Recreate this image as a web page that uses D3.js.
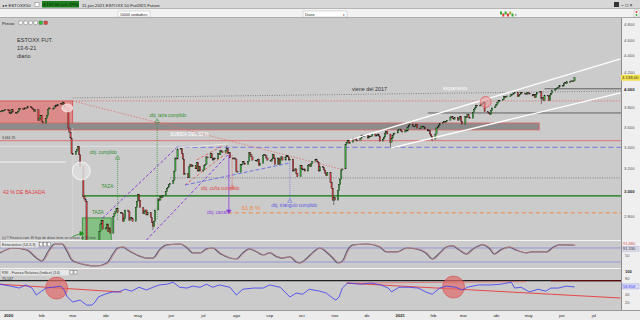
<!DOCTYPE html>
<html>
<head>
<meta charset="utf-8">
<script src="https://cdn.jsdelivr.net/npm/d3@7"></script>
<style>
  body { margin: 0; background: #fff; }
  svg { display: block; font-family: "Liberation Sans", Arial, sans-serif; }
</style>
</head>
<body>
<script>
const W = 640, H = 320;
const plotR = 621;                               // right edge of the plot, axis strip after it
const pane = { top: 18, bottom: 240 };
const stoPane = { top: 241, bottom: 268 };
const rsiPane = { top: 269, bottom: 310 };

// daily closes, one value per weekday (starting at the given date)
const dec19 = [3765, 3770, 3770, 3775, 3785, 3770, 3745];
const jan20 = [3745, 3780, 3755, 3740, 3750, 3765, 3795, 3790, 3785, 3800, 3790, 3800, 3815, 3805, 3790, 3785, 3760, 3780, 3670, 3690, 3720, 3660, 3640];
const feb20 = [3690, 3720, 3780, 3800, 3790, 3795, 3810, 3830, 3820, 3840, 3850, 3835, 3855, 3815, 3800, 3590, 3550, 3490, 3340, 3330];
const mar20 = [3360, 3380, 3410, 3330, 3220, 2960, 2940, 2920, 2560, 2600, 2420, 2500, 2370, 2470, 2530, 2470, 2680, 2740, 2770, 2700, 2710, 2740];
const apr20 = [2680, 2710, 2670, 2800, 2820, 2840, 2860, 2830, 2830, 2820, 2760, 2780, 2850, 2840, 2770, 2790, 2780, 2760, 2870, 2920, 2980, 2930];
const may20 = [2870, 2820, 2840, 2850, 2810, 2830, 2790, 2750, 2720, 2760, 2850, 2940, 2930, 2960, 2950, 2970, 3000, 3030, 3040, 3060, 3070];
const jun20 = [3100, 3180, 3300, 3290, 3380, 3390, 3340, 3290, 3150, 3160, 3120, 3220, 3240, 3220, 3230, 3200, 3260, 3180, 3220, 3180, 3190, 3230];
const jul20 = [3240, 3310, 3300, 3340, 3300, 3280, 3300, 3290, 3340, 3330, 3370, 3360, 3350, 3370, 3390, 3340, 3350, 3300, 3290, 3300, 3290, 3180, 3170];
const aug20 = [3240, 3240, 3270, 3250, 3240, 3270, 3350, 3330, 3310, 3280, 3280, 3270, 3290, 3230, 3250, 3320, 3330, 3320, 3300, 3280, 3270];
const sep20 = [3290, 3330, 3300, 3240, 3300, 3240, 3290, 3310, 3280, 3310, 3320, 3310, 3280, 3290, 3180, 3190, 3200, 3160, 3130, 3230, 3200, 3190];
const oct20 = [3200, 3180, 3230, 3240, 3220, 3250, 3270, 3290, 3270, 3260, 3180, 3220, 3210, 3190, 3160, 3140, 3170, 3080, 3030, 2930, 2950, 2930];
const nov20 = [3010, 3060, 3110, 3190, 3200, 3430, 3450, 3470, 3440, 3450, 3490, 3480, 3490, 3470, 3470, 3490, 3520, 3510, 3510, 3520, 3490];
const dec20 = [3510, 3510, 3510, 3530, 3510, 3520, 3530, 3510, 3460, 3480, 3500, 3540, 3560, 3530, 3450, 3490, 3520, 3540, 3540, 3570, 3580, 3580, 3560];
const jan21 = [3550, 3570, 3560, 3600, 3620, 3630, 3610, 3610, 3610, 3630, 3590, 3590, 3610, 3610, 3600, 3580, 3560, 3570, 3530, 3510, 3480];
const feb21 = [3530, 3590, 3600, 3620, 3640, 3650, 3660, 3650, 3660, 3670, 3700, 3710, 3690, 3680, 3700, 3670, 3690, 3710, 3660, 3630];
const mar21 = [3710, 3700, 3730, 3700, 3690, 3750, 3780, 3800, 3830, 3820, 3830, 3840, 3850, 3860, 3760, 3750, 3740, 3730, 3770, 3800, 3820, 3840, 3860];
const apr21 = [3880, 3880, 3890, 3920, 3910, 3920, 3930, 3930, 3950, 3950, 3960, 3970, 3920, 3940, 3950, 3970, 3960, 3960, 3950, 3970, 3960, 3950];
const may21 = [3930, 3950, 3910, 3950, 3970, 3980, 3900, 3910, 3880, 3940, 3930, 3880, 3940, 3960, 3990, 4000, 4010, 4020, 4030, 4050, 4040];
const jun21 = [4070, 4080, 4070, 4090, 4090, 4100, 4090, 4100, 4137];

const monthStarts = ['2019-12-23', '2020-01-01', '2020-02-01', '2020-03-01', '2020-04-01', '2020-05-01', '2020-06-01',
  '2020-07-01', '2020-08-01', '2020-09-01', '2020-10-01', '2020-11-01', '2020-12-01', '2021-01-01', '2021-02-01',
  '2021-03-01', '2021-04-01', '2021-05-01', '2021-06-01'];
const monthCloses = [dec19, jan20, feb20, mar20, apr20, may20, jun20, jul20, aug20, sep20, oct20, nov20, dec20,
  jan21, feb21, mar21, apr21, may21, jun21];

// the few wicks that stand out: [date, high, low]
const wicks = [['2020-02-19', 3870, null], ['2020-05-13', null, 2694], ['2020-06-05', 3405, null],
  ['2020-07-21', 3420, null], ['2020-10-29', null, 2890], ['2020-12-21', null, 3395],
  ['2021-01-29', null, 3460], ['2021-05-11', null, 3840]];

// stochastic %K
const stoDates = ['2019-12-22', '2020-01-03', '2020-01-16', '2020-01-25', '2020-01-30', '2020-02-06', '2020-02-11', '2020-02-18',
  '2020-02-23', '2020-02-27', '2020-03-04', '2020-03-12', '2020-03-21', '2020-03-31', '2020-04-05', '2020-04-10', '2020-04-15',
  '2020-04-19', '2020-04-28', '2020-05-07', '2020-05-13', '2020-05-19', '2020-05-26', '2020-06-07', '2020-06-14', '2020-06-19',
  '2020-06-26', '2020-07-02', '2020-07-08', '2020-07-14', '2020-07-24', '2020-07-30', '2020-08-05', '2020-08-11', '2020-08-18',
  '2020-08-24', '2020-08-30', '2020-09-06', '2020-09-11', '2020-09-18', '2020-09-24', '2020-09-27', '2020-10-04', '2020-10-09',
  '2020-10-16', '2020-10-22', '2020-10-28', '2020-11-02', '2020-11-06', '2020-11-11', '2020-11-16', '2020-11-29', '2020-12-11',
  '2020-12-17', '2020-12-27', '2021-01-05', '2021-01-14', '2021-01-23', '2021-01-29', '2021-02-05', '2021-02-11', '2021-02-17',
  '2021-02-23', '2021-03-02', '2021-03-07', '2021-03-17', '2021-03-23', '2021-03-28', '2021-04-03', '2021-04-11', '2021-04-17',
  '2021-04-27', '2021-05-02', '2021-05-09', '2021-05-16', '2021-05-21', '2021-05-28', '2021-06-09', '2021-06-11'];
const stoValues = [59, 80, 72, 37, 24, 72, 97, 97, 63, 29, 16, 7, 3, 16, 50, 80, 84, 72, 50, 37, 37, 72, 93, 97, 80, 59,
  59, 76, 80, 59, 37, 33, 59, 76, 63, 50, 59, 42, 37, 42, 20, 16, 37, 59, 80, 63, 37, 16, 24, 72, 93, 97, 84, 63, 63,
  80, 76, 59, 33, 59, 84, 89, 72, 54, 72, 93, 80, 54, 72, 84, 72, 59, 63, 63, 63, 80, 93, 92, 91.7];

// RSI (14)
const rsiDates = ['2019-12-22', '2020-01-01', '2020-01-09', '2020-01-15', '2020-01-21', '2020-01-25', '2020-01-30', '2020-02-03',
  '2020-02-09', '2020-02-17', '2020-02-20', '2020-02-23', '2020-02-28', '2020-03-06', '2020-03-12', '2020-03-17', '2020-03-20',
  '2020-03-23', '2020-03-29', '2020-04-05', '2020-04-11', '2020-04-17', '2020-04-23', '2020-04-30', '2020-05-07', '2020-05-13',
  '2020-05-19', '2020-05-26', '2020-06-01', '2020-06-07', '2020-06-14', '2020-06-19', '2020-06-26', '2020-07-02', '2020-07-08',
  '2020-07-14', '2020-07-24', '2020-07-30', '2020-08-05', '2020-08-15', '2020-08-24', '2020-08-30', '2020-09-09', '2020-09-18',
  '2020-09-24', '2020-09-30', '2020-10-06', '2020-10-16', '2020-10-22', '2020-10-28', '2020-10-31', '2020-11-03', '2020-11-06',
  '2020-11-11', '2020-11-23', '2020-12-03', '2020-12-12', '2020-12-19', '2020-12-22', '2020-12-29', '2021-01-07', '2021-01-16',
  '2021-01-23', '2021-01-29', '2021-02-05', '2021-02-11', '2021-02-20', '2021-02-26', '2021-03-03', '2021-03-13', '2021-03-25',
  '2021-04-03', '2021-04-13', '2021-04-16', '2021-04-22', '2021-04-30', '2021-05-08', '2021-05-15', '2021-05-20', '2021-05-27',
  '2021-06-03', '2021-06-11'];
const rsiValues = [66, 61, 56, 64, 56, 38, 48, 56, 58, 61, 51, 33, 20, 25, 12, 12, 20, 33, 40, 46, 46, 53, 48, 58, 51, 58,
  64, 66, 71, 58, 56, 61, 58, 66, 58, 64, 58, 38, 53, 56, 56, 64, 58, 33, 43, 40, 53, 48, 43, 30, 25, 33, 56, 69, 66,
  69, 64, 56, 46, 58, 58, 56, 46, 40, 56, 61, 58, 51, 58, 64, 64, 66, 71, 56, 58, 46, 53, 48, 56, 56, 61, 58.86];

const priceTicks = [2800, 3000, 3200, 3400, 3600, 3800, 4000, 4200, 4400, 4600, 4800];
const monthNames = ['', 'feb', 'mar', 'abr', 'may', 'jun', 'jul', 'ago', 'sep', 'oct', 'nov', 'dic'];

const parse = d3.timeParse('%Y-%m-%d');
const es = d3.formatLocale({ decimal: ',', thousands: '.', grouping: [3], currency: ['', ''] });
const fmtInt = es.format(',d');

function weekdays(start, n) {
  const out = [];
  const d = parse(start);
  while (out.length < n) {
    if (d.getDay() !== 0 && d.getDay() !== 6) out.push(new Date(d));
    d.setDate(d.getDate() + 1);
  }
  return out;
}

// build candles: open = previous close
const candles = [];
let prev = null;
monthStarts.forEach((s, i) => {
  const days = weekdays(s, monthCloses[i].length);
  monthCloses[i].forEach((c, j) => {
    const o = prev == null ? c : prev;
    candles.push({ date: days[j], o: o, c: c, hi: Math.max(o, c), lo: Math.min(o, c) });
    prev = c;
  });
});
const dayKey = d3.timeFormat('%Y-%m-%d');
wicks.forEach(w => {
  const k = candles.find(d => dayKey(d.date) === w[0]);
  if (!k) return;
  if (w[1] != null) k.hi = w[1];
  if (w[2] != null) k.lo = w[2];
});

// scales
const x = d3.scaleTime().domain([parse('2020-01-01'), parse('2021-07-01')]).range([10.6, 595.9]);
const y = d3.scaleLog().domain([2619, 4895]).range([pane.bottom, pane.top]);
const ySto = d3.scaleLinear().domain([0, 100]).range([266.7, 243.3]);
const yRsi = d3.scaleLinear().domain([20, 100]).range([302, 271]);
const X = s => x(parse(s));

const svg = d3.select('body').append('svg').attr('width', W).attr('height', H);
const defs = svg.append('defs');
[['clipP', pane], ['clipS', stoPane], ['clipR', rsiPane]].forEach(([id, p]) => {
  defs.append('clipPath').attr('id', id).append('rect')
    .attr('x', 0).attr('y', p.top).attr('width', plotR).attr('height', p.bottom - p.top);
});

// backgrounds
svg.append('rect').attr('width', W).attr('height', H).attr('fill', '#cbcbcb');
svg.append('rect').attr('x', plotR).attr('y', 18).attr('width', W - plotR).attr('height', 293).attr('fill', '#efefef');
svg.append('line').attr('x1', plotR + 0.5).attr('x2', plotR + 0.5).attr('y1', 18).attr('y2', 311).attr('stroke', '#8d8d8d');
svg.append('rect').attr('y', 311).attr('width', W).attr('height', 9).attr('fill', '#ececec');
svg.append('line').attr('x1', 0).attr('x2', W).attr('y1', 310.5).attr('y2', 310.5).attr('stroke', '#999');
[240.5, 268.5].forEach(v => {
  svg.append('line').attr('x1', 0).attr('x2', plotR).attr('y1', v).attr('y2', v).attr('stroke', '#f4f4f4').attr('stroke-width', 1);
});

// window bars at the top
svg.append('rect').attr('width', W).attr('height', 9).attr('fill', '#d7d7d7');
svg.append('rect').attr('y', 9).attr('width', W).attr('height', 9).attr('fill', '#f2f2f2');
svg.append('line').attr('x1', 0).attr('x2', W).attr('y1', 8.5).attr('y2', 8.5).attr('stroke', '#b5b5b5');
svg.append('line').attr('x1', 0).attr('x2', W).attr('y1', 17.5).attr('y2', 17.5).attr('stroke', '#aaa');
const bar = svg.append('g').attr('font-size', 4.3).attr('fill', '#222');
bar.append('text').attr('x', 2).attr('y', 6.5).text('◂  ▾ ESTOXX50');
bar.append('rect').attr('x', 35).attr('y', 2.5).attr('width', 4).attr('height', 4).attr('fill', '#fff').attr('stroke', '#666').attr('stroke-width', 0.4);
bar.append('rect').attr('x', 42).attr('y', 1).attr('width', 37).attr('height', 6.5).attr('fill', '#1c7f1c');
bar.append('text').attr('x', 43).attr('y', 6).attr('fill', '#111').text('4.137,00 (+0,72%)');
bar.append('text').attr('x', 82).attr('y', 6.5).text('11-jun-2021 ESTOXX 50 Fut0921 Future');
bar.append('rect').attr('x', 614).attr('y', 2).attr('width', 5).attr('height', 5).attr('fill', '#333');
bar.append('text').attr('x', 621).attr('y', 6.5).attr('font-size', 5).text('– □ ×');
bar.append('rect').attr('x', 118).attr('y', 11).attr('width', 32).attr('height', 6).attr('fill', '#fff').attr('stroke', '#aaa').attr('stroke-width', 0.4);
bar.append('text').attr('x', 120).attr('y', 15.6).attr('font-size', 3.6).text('10000 unidades');
bar.append('text').attr('x', 145.5).attr('y', 15.6).attr('font-size', 3.2).text('▾');
bar.append('rect').attr('x', 303).attr('y', 11).attr('width', 44).attr('height', 6).attr('fill', '#fff').attr('stroke', '#aaa').attr('stroke-width', 0.4);
bar.append('text').attr('x', 305).attr('y', 15.6).attr('font-size', 3.6).text('Diario');
bar.append('text').attr('x', 342.5).attr('y', 15.6).attr('font-size', 3.2).text('▾');
['#3a3', '#d33', '#3a3', '#d33', '#aa3', '#3a3'].forEach((c, i) => {
  bar.append('rect').attr('x', 500 + i * 2.3).attr('y', 11.5 + (i % 2) * 2).attr('width', 2).attr('height', 3).attr('fill', c);
});
bar.append('text').attr('x', 515).attr('y', 15.6).attr('font-size', 3.2).text('▾');
bar.append('rect').attr('x', 634).attr('y', 10).attr('width', 5).attr('height', 7).attr('fill', '#fff').attr('stroke', '#999').attr('stroke-width', 0.4);
bar.append('circle').attr('cx', 636.5).attr('cy', 12).attr('r', 1).attr('fill', '#d33');
bar.append('circle').attr('cx', 636.5).attr('cy', 15).attr('r', 1).attr('fill', '#3a3');
bar.append('text').attr('x', 2).attr('y', 24.5).text('Precio');
[18, 23, 28, 33, 38, 43].forEach((v, i) => {
  bar.append('rect').attr('x', v + 1).attr('y', 21).attr('width', 3.5).attr('height', 3.5)
    .attr('fill', i === 4 ? '#3b3' : i === 5 ? '#d44' : '#fafafa').attr('stroke', '#444').attr('stroke-width', 0.3);
});

// ---------- price pane ----------
const gP = svg.append('g').attr('clip-path', 'url(#clipP)');

// boxes under the candles
gP.append('rect').attr('x', X('2019-12-20')).attr('y', y(3875))
  .attr('width', X('2020-02-28') - X('2019-12-20')).attr('height', y(3590) - y(3875))
  .attr('fill', '#e27676').attr('fill-opacity', 0.75).attr('stroke', '#d84848').attr('stroke-width', 0.8);
gP.append('rect').attr('x', X('2019-12-20')).attr('y', y(3642))
  .attr('width', X('2021-05-09') - X('2019-12-20')).attr('height', y(3571) - y(3642))
  .attr('fill', '#8c8c8c').attr('stroke', '#e06464').attr('stroke-width', 0.8);
gP.append('rect').attr('x', X('2020-03-08')).attr('y', y(2787))
  .attr('width', X('2020-04-04') - X('2020-03-08')).attr('height', y(2600) - y(2787))
  .attr('fill', '#73bd73').attr('fill-opacity', 0.8).attr('stroke', '#2b8a2b').attr('stroke-width', 0.8);

function seg(g, d1, v1, d2, v2, color, w, dash, sc) {
  const s = sc || y;
  return g.append('line')
    .attr('x1', X(d1)).attr('y1', s(v1)).attr('x2', X(d2)).attr('y2', s(v2))
    .attr('stroke', color).attr('stroke-width', w).attr('stroke-dasharray', dash || null);
}

// horizontal levels
seg(gP, '2019-12-20', 3464.76, '2021-07-25', 3464.76, '#e36a6a', 0.9);
seg(gP, '2019-12-20', 3410, '2020-06-04', 3410, '#e4e4e4', 0.8);
seg(gP, '2019-12-20', 3263, '2020-02-22', 3263, '#ffffff', 0.8);
seg(gP, '2020-06-04', 3400, '2021-07-25', 3400, '#6e6ee6', 0.9, '5,3');
seg(gP, '2020-02-28', 3875, '2021-07-25', 3875, '#e06262', 0.7, '1.5,1.5');
seg(gP, '2020-02-28', 3908, '2021-07-25', 3985, '#707070', 0.8, '1,1.4');
seg(gP, '2020-02-28', 3875, '2020-11-08', 3190, '#e07070', 0.8, '1.5,1.5');
seg(gP, '2020-05-29', 3120, '2021-07-25', 3120, '#707070', 0.8, '1,1.4');
seg(gP, '2020-03-08', 2965, '2021-07-25', 2965, '#0b760b', 1.3);
seg(gP, '2020-07-22', 2827, '2021-07-25', 2827, '#f2883e', 1, '4,3');
seg(gP, '2021-01-25', 3746, '2021-07-25', 3746, '#555', 0.9);
seg(gP, '2021-05-14', 4010, '2021-07-25', 4010, '#555', 0.9);
seg(gP, '2020-02-28', 3591, '2020-02-28', 2600, '#eeeeee', 0.7, '1,1.5');

// candles
const cw = 1.3;
gP.append('g').selectAll('line').data(candles).join('line')
  .attr('x1', d => x(d.date)).attr('x2', d => x(d.date))
  .attr('y1', d => y(d.hi)).attr('y2', d => y(d.lo))
  .attr('stroke', '#222').attr('stroke-width', 0.5);
gP.append('g').selectAll('rect').data(candles).join('rect')
  .attr('x', d => x(d.date) - cw / 2).attr('width', cw)
  .attr('y', d => y(Math.max(d.o, d.c)))
  .attr('height', d => Math.max(0.8, y(Math.min(d.o, d.c)) - y(Math.max(d.o, d.c))))
  .attr('fill', d => d.c >= d.o ? '#38a838' : '#d63c3c')
  .attr('stroke', '#1d1d1d').attr('stroke-width', 0.3);

// channels, wedges and targets
seg(gP, '2020-11-13', 3472, '2021-07-24', 4362, '#ffffff', 1.3);
seg(gP, '2020-12-22', 3395, '2021-07-24', 3963, '#ffffff', 1.3);
seg(gP, '2020-06-04', 3395, '2020-07-22', 3433, '#eeeeee', 0.8);
seg(gP, '2020-03-27', 2787, '2020-06-04', 3395, '#8b3ddb', 1, '3,2');
seg(gP, '2020-05-07', 2619, '2020-07-22', 3328, '#8b3ddb', 1, '3,2');
seg(gP, '2020-06-12', 3058, '2020-07-22', 3356, '#e05050', 0.8, '3,2');
seg(gP, '2020-06-23', 3282, '2020-07-17', 3414, '#e05050', 0.8, '3,2');
seg(gP, '2020-06-12', 3058, '2020-09-18', 3254, '#6a6ae6', 0.9, '4,2');
seg(gP, '2020-07-23', 3328, '2020-07-23', 2850, '#8b3ddb', 0.8);
seg(gP, '2020-07-26', 3328, '2020-07-26', 3033, '#e05050', 0.7, '1,1');
seg(gP, '2020-09-18', 3264, '2020-09-18', 2916, '#6a6ae6', 0.7, '1,1');
seg(gP, '2020-04-10', 3310, '2020-04-10', 2771, '#2e8f2e', 0.7, '1,1');
seg(gP, '2020-05-17', 3673, '2020-05-17', 2771, '#2e8f2e', 0.7, '1,1');
seg(gP, '2020-02-28', 2645, '2020-03-07', 2668, '#1f8f1f', 0.8);

const tri = (d, v, rot, col, fill) => gP.append('path')
  .attr('d', d3.symbol(d3.symbolTriangle, 9)())
  .attr('transform', `translate(${X(d)},${y(v)}) rotate(${rot})`)
  .attr('fill', fill).attr('stroke', col).attr('stroke-width', 0.5);
tri('2020-07-23', 2840, 180, '#8b3ddb', '#8b3ddb');
tri('2020-07-26', 3040, 0, '#e05050', 'none');
tri('2020-09-18', 2922, 0, '#6a6ae6', 'none');
tri('2020-04-10', 3300, 0, '#2e8f2e', 'none');
tri('2020-05-17', 3660, 0, '#2e8f2e', 'none');
tri('2020-03-07', 2668, 90, '#1f8f1f', '#1f8f1f');

// circles
gP.append('circle').attr('cx', X('2020-03-07')).attr('cy', y(3181)).attr('r', 9)
  .attr('fill', '#dedede').attr('fill-opacity', 0.85).attr('stroke', '#ffffff').attr('stroke-width', 0.8);
gP.append('ellipse').attr('cx', X('2020-02-23')).attr('cy', y(3799)).attr('rx', 5.5).attr('ry', 4)
  .attr('fill', '#f2d6d6').attr('fill-opacity', 0.85).attr('stroke', '#fafafa').attr('stroke-width', 0.6);
gP.append('circle').attr('cx', X('2021-03-20')).attr('cy', y(3864)).attr('r', 5.5)
  .attr('fill', '#ea9a9a').attr('fill-opacity', 0.6).attr('stroke', '#e35a5a').attr('stroke-width', 0.7);

// annotation texts
const note = (d, v, txt, col, size, anchor) => gP.append('text')
  .attr('x', X(d)).attr('y', y(v)).attr('fill', col).attr('font-size', size)
  .attr('text-anchor', anchor || 'start').text(txt);
note('2020-03-15', 3337, 'obj. cumplido', '#2e8f2e', 4.6);
note('2020-05-27', 3704, 'obj. taza cumplido', '#2e8f2e', 4.6, 'middle');
note('2020-03-26', 3033, 'TAZA', '#2e8f2e', 4.8);
note('2020-03-17', 2819, 'TAZA', '#2e8f2e', 4.8);
note('2020-05-29', 3511, 'SUBIDA DEL 50 %', '#ffffff', 4.6);
note('2020-06-27', 3016, 'obj. cuña cumplido', '#e04848', 4.6);
note('2020-07-21', 2819, 'obj. canal', '#8b3ddb', 4.6, 'end');
note('2020-08-04', 2851, '61,8 %', '#f2883e', 6);
note('2020-09-22', 2875, 'obj. triángulo cumplido', '#5a5ae0', 4.6, 'middle');
note('2020-11-15', 3985, 'viene del 2017', '#333', 5.4);
note('2021-02-08', 4000, 'expansivo', '#ffffff', 5.4);

const free = svg.append('g').attr('font-size', 5.6).attr('fill', '#333');
free.append('text').attr('x', 17).attr('y', 42).text('ESTOXX FUT.');
free.append('text').attr('x', 17).attr('y', 50).text('13-6-21');
free.append('text').attr('x', 17).attr('y', 58).text('diario');
free.append('text').attr('x', 3).attr('y', 194).attr('fill', '#e03c3c').attr('font-size', 5.2).text('42 % DE BAJADA');
free.append('text').attr('x', 2).attr('y', 138.5).attr('font-size', 3.4).text('3.464,76');
free.append('text').attr('x', 2).attr('y', 238.5).attr('font-size', 3.4).attr('fill', '#444')
  .text('(c) T Finance.com. El flujo de datos tiene un retraso de 15 min.');

// price axis
const ax = svg.append('g').attr('font-size', 4.2).attr('fill', '#555');
priceTicks.forEach(v => {
  ax.append('text').attr('x', 624).attr('y', y(v) + 1.5)
    .attr('font-weight', v % 1000 === 0 ? 'bold' : null)
    .attr('fill', v % 1000 === 0 ? '#222' : '#555').text(fmtInt(v));
});
ax.append('rect').attr('x', 621).attr('y', y(4137) - 3).attr('width', 19).attr('height', 6).attr('fill', '#f3e04a');
ax.append('text').attr('x', 622).attr('y', y(4137) + 1.5).attr('fill', '#333').text('4.138,00');

// ---------- stochastic pane ----------
const gS = svg.append('g').attr('clip-path', 'url(#clipS)');
[80, 20].forEach(v => seg(gS, '2019-12-20', v, '2021-07-25', v, '#7f7fe0', 0.7, null, ySto));
const sto = stoDates.map((d, i) => ({ date: parse(d), v: stoValues[i] }));
gS.append('path').datum(sto)
  .attr('d', d3.line().x(d => x(d.date)).y(d => ySto(d.v)).curve(d3.curveMonotoneX))
  .attr('fill', 'none').attr('stroke', '#5e5e78').attr('stroke-width', 1.2);
gS.append('path').datum(sto)
  .attr('d', d3.line().x(d => x(d.date) + 1.2).y(d => ySto(d.v)).curve(d3.curveMonotoneX))
  .attr('fill', 'none').attr('stroke', '#c58383').attr('stroke-width', 0.8);
svg.append('rect').attr('x', 1).attr('y', 242).attr('width', 37).attr('height', 5.5).attr('fill', '#e6e6e6');
svg.append('text').attr('x', 2).attr('y', 246.3).attr('font-size', 3.8).attr('fill', '#333').text('Estocástico (14,3,3)');
[39.5, 43.5, 47.5].forEach(v => svg.append('rect').attr('x', v).attr('y', 242.5).attr('width', 3).attr('height', 3.5)
  .attr('fill', '#fafafa').attr('stroke', '#333').attr('stroke-width', 0.3));
const sa = svg.append('g').attr('font-size', 4).attr('fill', '#555');
sa.append('text').attr('x', 623).attr('y', 245).attr('fill', '#d45050').text('91.680');
sa.append('rect').attr('x', 622).attr('y', 246.2).attr('width', 17).attr('height', 5).attr('fill', '#d9d9e8').attr('stroke', '#9a9ac0').attr('stroke-width', 0.3);
sa.append('text').attr('x', 623).attr('y', 250).attr('fill', '#333').text('91.330');
sa.append('text').attr('x', 625).attr('y', ySto(50) + 1.5).text('50');

// ---------- RSI pane ----------
const gR = svg.append('g').attr('clip-path', 'url(#clipR)');
seg(gR, '2019-12-20', 75.137, '2021-07-25', 75.137, '#1e1e1e', 1.2, null, yRsi);
seg(gR, '2021-05-20', 75.137, '2021-07-25', 75.137, '#5a0a0a', 1.2, null, yRsi);
seg(gR, '2019-12-20', 66.2, '2020-04-14', 45.6, '#e83a3a', 0.9, null, yRsi);
seg(gR, '2020-11-10', 68.7, '2021-07-24', 30.3, '#e83a3a', 0.9, null, yRsi);
seg(gR, '2020-11-10', 68.7, '2021-04-27', 72.5, '#e85a5a', 0.7, null, yRsi);
[['2020-02-13', 55.9], ['2021-02-18', 58.5]].forEach(([d, v]) => {
  gR.append('circle').attr('cx', X(d)).attr('cy', yRsi(v)).attr('r', 11)
    .attr('fill', '#e06a6a').attr('fill-opacity', 0.7).attr('stroke', '#d84c4c').attr('stroke-width', 0.6);
});
const rsi = rsiDates.map((d, i) => ({ date: parse(d), v: rsiValues[i] }));
gR.append('path').datum(rsi)
  .attr('d', d3.line().x(d => x(d.date)).y(d => yRsi(d.v)))
  .attr('fill', 'none').attr('stroke', '#3a3af5').attr('stroke-width', 0.8);
svg.append('rect').attr('x', 1).attr('y', 270).attr('width', 68).attr('height', 5.5).attr('fill', '#e6e6e6');
svg.append('text').attr('x', 2).attr('y', 274.3).attr('font-size', 3.8).attr('fill', '#333').text('RSI - Fuerza Relativa (Indice) (14)');
[70, 74].forEach(v => svg.append('rect').attr('x', v).attr('y', 270.5).attr('width', 3).attr('height', 3.5)
  .attr('fill', '#fafafa').attr('stroke', '#333').attr('stroke-width', 0.3));
svg.append('text').attr('x', 2).attr('y', 279.5).attr('font-size', 3.6).attr('fill', '#333').text('75,137');
const ra = svg.append('g').attr('font-size', 4).attr('fill', '#555');
[100, 80, 40, 20].forEach(v => {
  ra.append('text').attr('x', 625).attr('y', yRsi(v) + 1.5)
    .attr('font-weight', v === 100 ? 'bold' : null).attr('fill', v === 100 ? '#222' : '#555').text(v);
});
ra.append('rect').attr('x', 622).attr('y', yRsi(58.86) - 3).attr('width', 17).attr('height', 5).attr('fill', '#dcdcf2').attr('stroke', '#6a6ae0').attr('stroke-width', 0.3);
ra.append('text').attr('x', 623).attr('y', yRsi(58.86) + 1.3).attr('fill', '#3a3af5').text('58.858');

// ---------- date axis ----------
const months = d3.timeMonth.range(parse('2020-01-01'), parse('2021-08-01'));
svg.append('g').attr('font-size', 4.2).attr('fill', '#222').attr('text-anchor', 'middle')
  .selectAll('text').data(months).join('text')
  .attr('x', d => x(d) - 2).attr('y', 317)
  .attr('font-weight', d => d.getMonth() === 0 ? 'bold' : null)
  .text(d => d.getMonth() === 0 ? d.getFullYear() : monthNames[d.getMonth()]);
</script>
</body>
</html>
